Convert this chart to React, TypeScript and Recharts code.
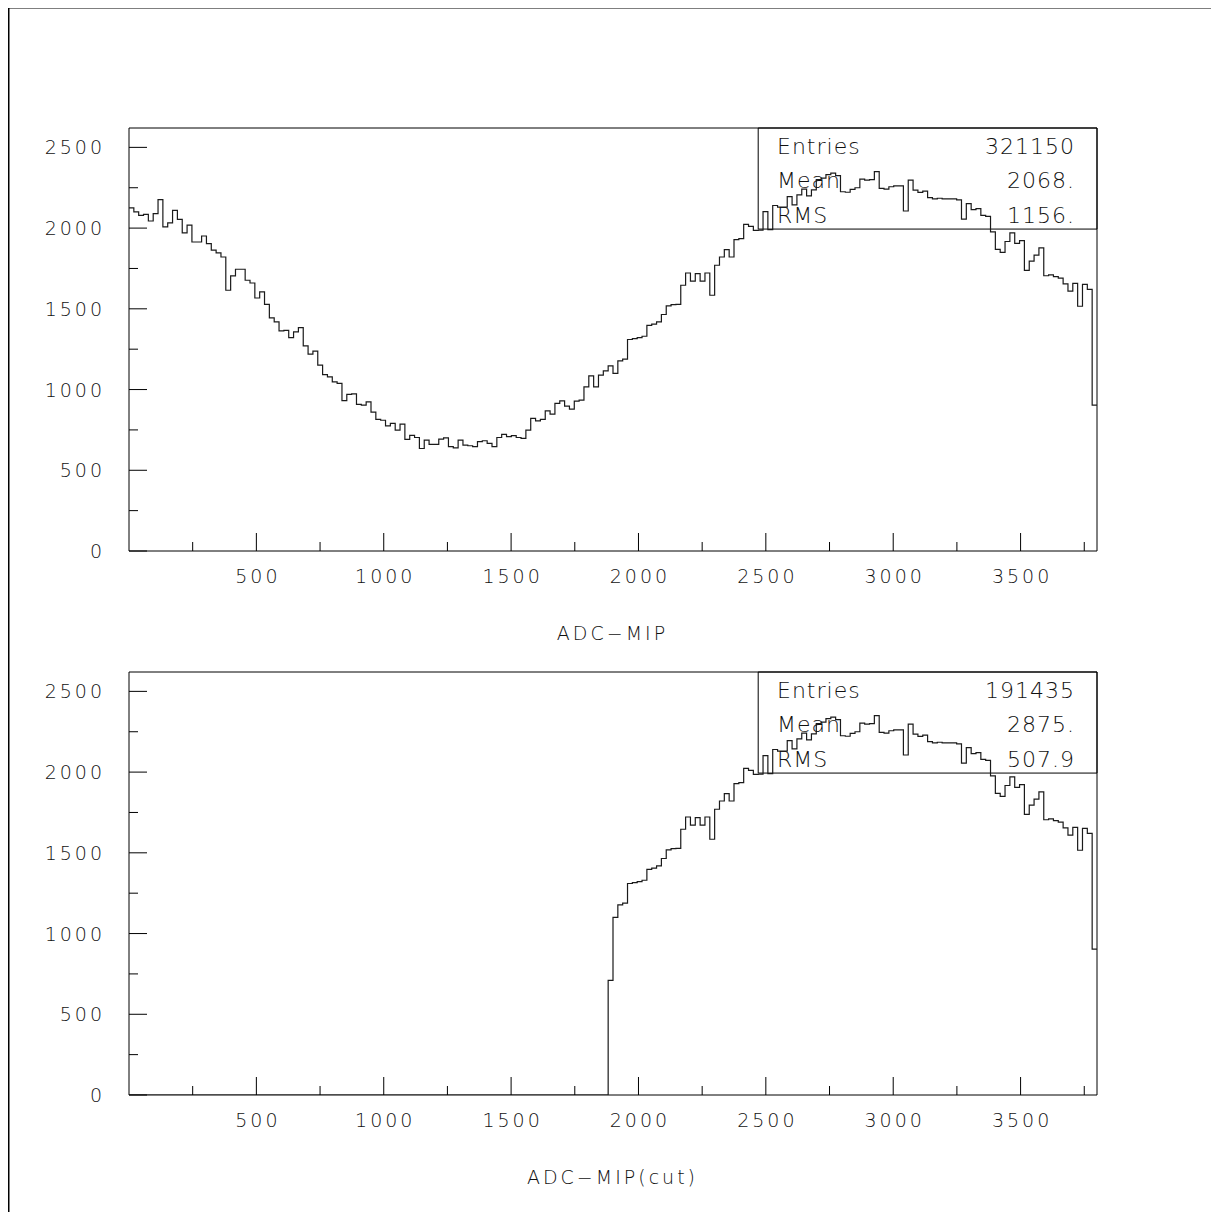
import { LineChart, Line, XAxis, YAxis, ReferenceArea } from 'recharts';

// ADC-MIP histogram, 200 bins of 19 counts each (0..3800)
const adcMip = [
  2125, 2100, 2079, 2085, 2044, 2090, 2176, 2007, 2032, 2110,
  2054, 1970, 2019, 1914, 1914, 1951, 1904, 1863, 1846, 1821,
  1615, 1704, 1745, 1745, 1677, 1660, 1567, 1605, 1527, 1444,
  1419, 1363, 1367, 1322, 1357, 1384, 1270, 1219, 1238, 1151,
  1093, 1079, 1048, 1038, 932, 970, 973, 908, 903, 924,
  860, 815, 810, 775, 790, 749, 786, 691, 716, 703,
  635, 687, 660, 660, 693, 701, 646, 639, 687, 656,
  652, 646, 677, 683, 666, 646, 703, 722, 708, 715,
  703, 697, 749, 821, 806, 815, 868, 848, 914, 930,
  897, 879, 928, 934, 1017, 1085, 1017, 1089, 1116, 1147,
  1100, 1178, 1188, 1310, 1316, 1322, 1330, 1398, 1405, 1419,
  1465, 1518, 1526, 1528, 1646, 1722, 1671, 1718, 1671, 1722,
  1584, 1770, 1821, 1867, 1821, 1929, 1935, 2023, 2011, 1986,
  1988, 2102, 1990, 2140, 2130, 2130, 2195, 2144, 2206, 2241,
  2200, 2237, 2300, 2310, 2331, 2340, 2325, 2225, 2222, 2240,
  2250, 2303, 2297, 2300, 2350, 2246, 2242, 2256, 2262, 2262,
  2106, 2297, 2235, 2221, 2229, 2189, 2181, 2185, 2181, 2181,
  2181, 2175, 2055, 2151, 2115, 2121, 2079, 2073, 1976, 1868,
  1850, 1917, 1970, 1905, 1922, 1738, 1795, 1832, 1878, 1705,
  1710, 1700, 1690, 1655, 1610, 1658, 1516, 1652, 1620, 903,
];

// the cut histogram is empty below bin 99, that bin is only partly filled
const cutFirstBin = 99;
const cutFirstValue = 710;

const BIN = 19;
const X_MAX = 3800;
const Y_MAX = 2620;

const xTicks = [250, 500, 750, 1000, 1250, 1500, 1750, 2000, 2250, 2500, 2750, 3000, 3250, 3500, 3750];
const yTicks = [0, 250, 500, 750, 1000, 1250, 1500, 1750, 2000, 2250, 2500];

const statNames = ['Entries', 'Mean', 'RMS'];
const statsAll = ['321150', '2068.', '1156.'];
const statsCut = ['191435', '2875.', '507.9'];

const rows = adcMip.map((v, i) => ({
  x: i * BIN,
  all: v,
  cut: i < cutFirstBin ? 0 : i === cutFirstBin ? cutFirstValue : v,
}));
rows.push({ x: X_MAX, all: adcMip[adcMip.length - 1], cut: adcMip[adcMip.length - 1] });

const FONT = '"DejaVu Sans", "Liberation Sans", sans-serif';
const INK = '#111';

function XTick(props: any) {
  const { x, y, payload } = props;
  const major = payload.value % 500 === 0;
  return (
    <g>
      <line x1={x} x2={x} y1={y} y2={y - (major ? 18 : 9)} stroke="#000" strokeWidth={1} />
      {major && (
        <text x={x + 1.5} y={y + 32} textAnchor="middle" fontSize={19} letterSpacing={3}
          fill={INK} fontFamily={FONT} fontWeight={200}>
          {payload.value}
        </text>
      )}
    </g>
  );
}

function YTick(props: any) {
  const { x, y, payload } = props;
  const major = payload.value % 500 === 0;
  return (
    <g>
      <line x1={x} x2={x + (major ? 18 : 9)} y1={y} y2={y} stroke="#000" strokeWidth={1} />
      {major && (
        <text x={x - 24} y={y + 7} textAnchor="end" fontSize={19} letterSpacing={3}
          fill={INK} fontFamily={FONT} fontWeight={200}>
          {payload.value}
        </text>
      )}
    </g>
  );
}

function Panel({ dataKey }: { dataKey: 'all' | 'cut' }) {
  return (
    <LineChart width={1200} height={660} data={rows} margin={{ top: 121, right: 111, left: 0, bottom: 0 }}>
      <XAxis dataKey="x" type="number" domain={[0, X_MAX]} ticks={xTicks} interval={0}
        allowDataOverflow axisLine={false} tickLine={false} tickSize={0} tickMargin={0}
        height={116} tick={(p: any) => <XTick {...p} />} />
      <YAxis type="number" domain={[0, Y_MAX]} ticks={yTicks} interval={0}
        allowDataOverflow axisLine={false} tickLine={false} tickSize={0} tickMargin={0}
        width={121} tick={(p: any) => <YTick {...p} />} />
      <ReferenceArea x1={0} x2={X_MAX} y1={0} y2={Y_MAX} fill="none" stroke="#000" strokeWidth={1} fillOpacity={0} />
      <ReferenceArea x1={2470} x2={X_MAX} y1={1994} y2={Y_MAX} fill="none" stroke="#000" strokeWidth={1} fillOpacity={0} />
      <Line type="stepAfter" dataKey={dataKey} stroke="#1a1a1a" strokeWidth={1.2} dot={false}
        activeDot={false} isAnimationActive={false} />
    </LineChart>
  );
}

function StatsText({ top, values }: { top: number; values: string[] }) {
  const offsets = [26, 60, 95];
  return (
    <g fontFamily={FONT} fontWeight={200} fontSize={22} fill={INK} letterSpacing={1}>
      {statNames.map((n, i) => (
        <g key={n}>
          <text x={769} y={top + offsets[i]}>{n}</text>
          <text x={1067} y={top + offsets[i]} textAnchor="end">{values[i]}</text>
        </g>
      ))}
    </g>
  );
}

export default function App() {
  return (
    <div style={{ position: 'relative', top: -1, width: 1210, height: 1205 }}>
      <div style={{ position: 'absolute', left: 0, top: 0 }}>
        <Panel dataKey="all" />
      </div>
      <div style={{ position: 'absolute', left: 0, top: 544 }}>
        <Panel dataKey="cut" />
      </div>
      <svg width={1210} height={1205} style={{ position: 'absolute', left: 0, top: 0, pointerEvents: 'none' }}>
        <path d="M0.75 1205 V0.75 H1209.25 V1205" stroke="#000" strokeWidth={1.5} fill="none" />
        <StatsText top={121} values={statsAll} />
        <StatsText top={665} values={statsCut} />
        <text x={604.5} y={633} textAnchor="middle" fontFamily={FONT} fontWeight={200} fontSize={19}
          letterSpacing={3} fill={INK}>ADC−MIP</text>
        <text x={604.5} y={1177} textAnchor="middle" fontFamily={FONT} fontWeight={200} fontSize={19}
          letterSpacing={3} fill={INK}>ADC−MIP(cut)</text>
      </svg>
    </div>
  );
}
